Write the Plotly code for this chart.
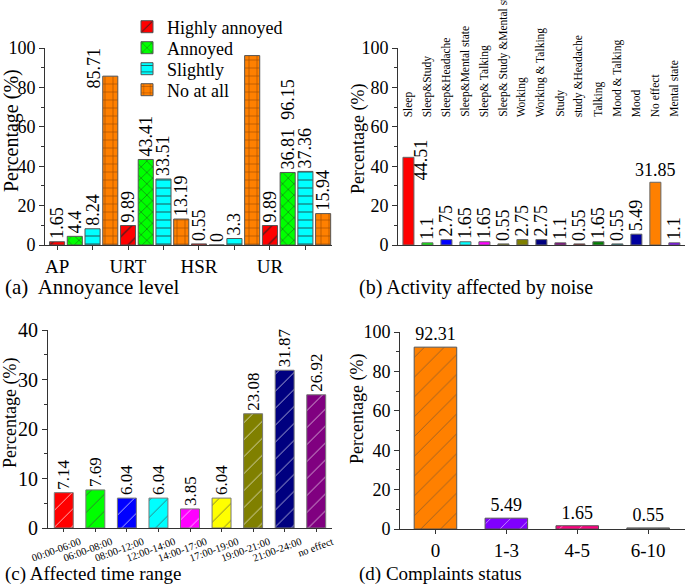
import plotly.graph_objects as go

FONT = "Liberation Serif, Times New Roman, Times, serif"
W, H = 685, 586

# ---------------- data ----------------
# (a) Annoyance level
a_groups = ["AP", "URT", "HSR", "UR"]
a_series = ["Highly annoyed", "Annoyed", "Slightly", "No at all"]
a_highly = [1.65, 9.89, 0.55, 9.89]
a_annoyed = [4.4, 43.41, 0, 36.81]
a_slightly = [8.24, 33.51, 3.3, 37.36]
a_noatall = [85.71, 13.19, 96.15, 15.94]
a_colors = ["#ff0000", "#00ff00", "#00ffff", "#ff8000"]
a_patterns = ["/", "x", "-", "+"]

# (b) Activity affected by noise
b_cats = ["Sleep", "Sleep&Study", "Sleep&Headache", "Sleep&Mental state", "Sleep& Talking",
          "Sleep& Study &Mental state", "Working", "Working & Talking", "Study",
          "study &Headache", "Talking", "Mood & Talking", "Mood", "No effect", "Mental state"]
b_vals = [44.51, 1.1, 2.75, 1.65, 1.65, 0.55, 2.75, 2.75, 1.1, 0.55, 1.65, 0.55, 5.49, 31.85, 1.1]
b_colors = ["#ff0000", "#00ff00", "#0000ff", "#00ffff", "#ff00ff", "#808000", "#808000",
            "#000080", "#800080", "#800000", "#008000", "#008080", "#0000a0", "#ff8000", "#8000ff"]

# (c) Affected time range
c_cats = ["00:00-06:00", "06:00-08:00", "08:00-12:00", "12:00-14:00", "14:00-17:00",
          "17:00-19:00", "19:00-21:00", "21:00-24:00", "no effect"]
c_vals = [7.14, 7.69, 6.04, 6.04, 3.85, 6.04, 23.08, 31.87, 26.92]
c_colors = ["#ff0000", "#00ff00", "#0000ff", "#00ffff", "#ff00ff", "#ffff00",
            "#808000", "#000080", "#800080"]

# (d) Complaints status
d_cats = ["0", "1-3", "4-5", "6-10"]
d_vals = [92.31, 5.49, 1.65, 0.55]
d_colors = ["#ff8000", "#8000ff", "#ff0080", "#808080"]

# ---------------- helpers (window pixels -> paper fraction) ----------------
def px_x(p):
    return p / W

def px_y(p):
    return 1 - p / H

fig = go.Figure()
annotations = []

# ---------------- (a) ----------------
a_values = [a_highly, a_annoyed, a_slightly, a_noatall]
n_series = len(a_series)
legend_names = ["legend", "legend2", "legend3", "legend4"]
legend_rows = [27, 48, 69, 90]
# labels drawn away from their bars in the original (series, group) -> (x slot, y centre)
a_label_moved = {(3, 0): (2.1, 89.8), (3, 2): (13.0, 74.1)}
for s, (name, vals, col, pat) in enumerate(zip(a_series, a_values, a_colors, a_patterns)):
    xs = [g * n_series + s for g in range(len(a_groups))]
    texts = ["" if (s, g) in a_label_moved else f"{v:g}" for g, v in enumerate(vals)]
    fig.add_trace(go.Bar(
        x=xs, y=vals, name=name, width=0.85, legend=legend_names[s],
        marker=dict(color=col, line=dict(color="#555555", width=1),
                    pattern=dict(shape=pat, fgcolor="#6b2a00" if s == 3 else "#222222",
                                 size=8 if s != 0 else 11, solidity=0.12, fgopacity=0.8)),
        text=texts, textposition="outside", textangle=-90, constraintext="none",
        cliponaxis=False, textfont=dict(size=18, color="black", family=FONT),
        xaxis="x", yaxis="y", showlegend=True,
    ))
for (s, g), (lx, ly) in a_label_moved.items():
    annotations.append(dict(x=lx, y=ly, xref="x", yref="y", text=f"{a_values[s][g]:g}",
                            textangle=-90, showarrow=False, xanchor="center", yanchor="middle",
                            font=dict(size=18, family=FONT, color="black")))

# ---------------- (b) ----------------
b_x = list(range(len(b_cats)))
b_moved = {0: (0.67, 43.1, -90, "middle"), 13: (13.0, 31.85, 0, "bottom")}
b_text = ["" if i in b_moved else f"{v:g}" for i, v in enumerate(b_vals)]
fig.add_trace(go.Bar(
    x=b_x, y=b_vals, width=0.58, showlegend=False,
    marker=dict(color=b_colors, line=dict(color="#666666", width=1)),
    text=b_text, textposition="outside", textangle=-90, constraintext="none",
    cliponaxis=False, textfont=dict(size=18, color="black", family=FONT),
    xaxis="x2", yaxis="y2",
))
for i, (lx, ly, ang, ya) in b_moved.items():
    annotations.append(dict(x=lx, y=ly, xref="x2", yref="y2", text=f"{b_vals[i]:g}",
                            textangle=ang, showarrow=False, xanchor="center", yanchor=ya,
                            font=dict(size=18, family=FONT, color="black")))
for i, c in enumerate(b_cats):
    annotations.append(dict(x=i, y=64, xref="x2", yref="y2", text=c, textangle=-90,
                            showarrow=False, xanchor="center", yanchor="bottom",
                            font=dict(size=11.5, family=FONT, color="black")))

# ---------------- (c) ----------------
fig.add_trace(go.Bar(
    x=c_cats, y=c_vals, width=0.6, showlegend=False,
    marker=dict(color=c_colors, line=dict(color="#777777", width=1),
                pattern=dict(shape="/", fgcolor="#222222", size=12, solidity=0.08, fgopacity=0.7)),
    text=[f"{v:g}" for v in c_vals], textposition="outside", textangle=-90,
    constraintext="none", cliponaxis=False,
    textfont=dict(size=17, color="black", family=FONT),
    xaxis="x3", yaxis="y3",
))

# ---------------- (d) ----------------
fig.add_trace(go.Bar(
    x=d_cats, y=d_vals, width=0.6, showlegend=False,
    marker=dict(color=d_colors, line=dict(color="#555555", width=1),
                pattern=dict(shape="/", fgcolor="#553300", size=14, solidity=0.06, fgopacity=0.6)),
    text=[f"{v:g}" for v in d_vals], textposition="outside", textangle=0,
    constraintext="none", cliponaxis=False,
    textfont=dict(size=18, color="black", family=FONT),
    xaxis="x4", yaxis="y4",
))

# ---------------- captions & axis titles ----------------
captions = [("(a)  Annoyance level", 3, 287, 21), ("(b) Activity affected by noise", 357, 287, 20),
            ("(c) Affected time range", 3, 574, 19), ("(d) Complaints status", 357, 574, 19)]
for t, x0, y0, fs in captions:
    annotations.append(dict(x=px_x(x0), y=px_y(y0), xref="paper", yref="paper", text=t,
                            showarrow=False, xanchor="left", yanchor="middle",
                            font=dict(size=fs, family=FONT, color="black")))
ytitles = [(11, 131, 20), (358, 139, 18), (10, 413, 18), (358, 409, 18)]
for x0, y0, fs in ytitles:
    annotations.append(dict(x=px_x(x0), y=px_y(y0), xref="paper", yref="paper",
                            text="Percentage (%)", textangle=-90, showarrow=False,
                            xanchor="center", yanchor="middle",
                            font=dict(size=fs, family=FONT, color="black")))

axis_common = dict(showline=True, linecolor="#333333", linewidth=1, showgrid=False,
                   zeroline=False, tickcolor="#333333", fixedrange=True, automargin=False)

legend_layout = {}
for ln, row in zip(legend_names, legend_rows):
    legend_layout[ln] = dict(x=px_x(127), y=px_y(row), xanchor="left", yanchor="middle",
                             font=dict(size=18, family=FONT), bgcolor="rgba(0,0,0,0)")

fig.update_layout(
    width=W, height=H, margin=dict(l=0, r=0, t=0, b=0, autoexpand=False),
    paper_bgcolor="white", plot_bgcolor="white",
    font=dict(family=FONT, color="black"),
    barmode="overlay",
    annotations=annotations,
    xaxis=dict(**axis_common, domain=[px_x(45), px_x(332)], range=[-0.68, 15.5],
               tickvals=[g * n_series for g in range(len(a_groups))], ticktext=a_groups,
               ticks="outside", ticklen=4, tickfont=dict(size=19),
               minor=dict(tickvals=[g * n_series + 2 for g in range(len(a_groups))],
                          ticks="outside", ticklen=4, tickcolor="#333333"),
               anchor="y"),
    yaxis=dict(**axis_common, domain=[px_y(245), px_y(48)], range=[0, 100], dtick=20,
               ticks="outside", ticklen=5, tickfont=dict(size=18),
               minor=dict(dtick=10, ticks="outside", ticklen=3, tickcolor="#333333"),
               anchor="x"),
    xaxis2=dict(**axis_common, domain=[px_x(398), 1], range=[-0.55, 14.56],
                showticklabels=False, ticks="", anchor="y2"),
    yaxis2=dict(**axis_common, domain=[px_y(245), px_y(48)], range=[0, 100], dtick=20,
                ticks="outside", ticklen=5, tickfont=dict(size=18),
                minor=dict(dtick=10, ticks="outside", ticklen=3, tickcolor="#333333"),
                anchor="x2"),
    xaxis3=dict(**axis_common, domain=[px_x(48), px_x(332)], range=[-0.5, 8.5],
                ticks="outside", ticklen=3, tickangle=-20, tickfont=dict(size=10.5),
                ticklabelshift=16, anchor="y3"),
    yaxis3=dict(**axis_common, domain=[px_y(528), px_y(330)], range=[0, 40], dtick=10,
                ticks="outside", ticklen=5, tickfont=dict(size=20),
                minor=dict(dtick=5, ticks="outside", ticklen=3, tickcolor="#333333"),
                anchor="x3"),
    xaxis4=dict(**axis_common, domain=[px_x(400), 1], range=[-0.5, 3.52],
                ticks="outside", ticklen=4, tickfont=dict(size=19), anchor="y4"),
    yaxis4=dict(**axis_common, domain=[px_y(529), px_y(332)], range=[0, 100], dtick=20,
                ticks="outside", ticklen=5, tickfont=dict(size=18),
                minor=dict(dtick=10, ticks="outside", ticklen=3, tickcolor="#333333"),
                anchor="x4"),
    **legend_layout,
)

fig.write_html("out.html", config={"displayModeBar": False},
               post_script="document.body.style.margin='0px';document.body.style.overflow='hidden';")
